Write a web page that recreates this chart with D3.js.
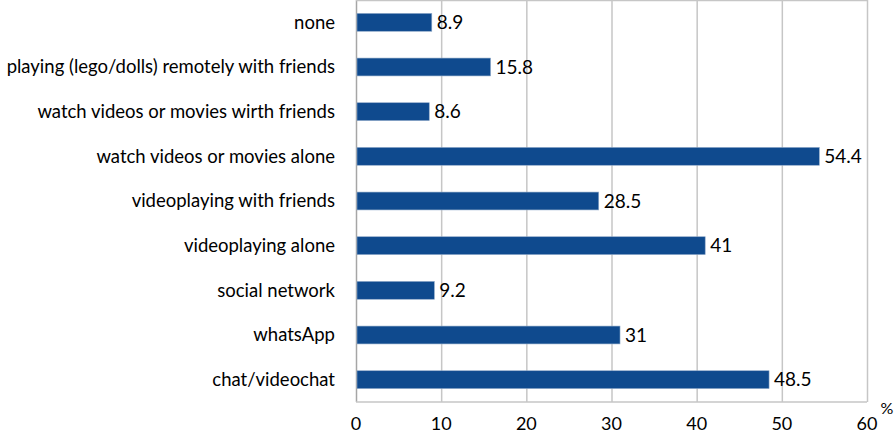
<!DOCTYPE html>
<html>
<head>
<meta charset="utf-8">
<script src="https://cdn.jsdelivr.net/npm/d3@7"></script>
<style>
  body { margin: 0; background: #fff; }
  text { font-family: Lato, "Open Sans", sans-serif; fill: #000; }
</style>
</head>
<body>
<div id="chart"></div>
<script>
const categories = [
    "none",
    "playing (lego/dolls) remotely with friends",
    "watch videos or movies wirth friends",
    "watch videos or movies alone",
    "videoplaying with friends",
    "videoplaying alone",
    "social network",
    "whatsApp",
    "chat/videochat"
];
const values = [8.9, 15.8, 8.6, 54.4, 28.5, 41, 9.2, 31, 48.5];
const xTicks = [0, 10, 20, 30, 40, 50, 60];

const width = 894, height = 435;
const margin = { top: 0, right: 27, bottom: 33, left: 356 };
const innerW = width - margin.left - margin.right;
const innerH = height - margin.top - margin.bottom;

const svg = d3.select("#chart").append("svg")
    .attr("width", width)
    .attr("height", height);

const g = svg.append("g")
    .attr("transform", `translate(${margin.left}, ${margin.top})`);

const x = d3.scaleLinear().domain([0, 60]).range([0, innerW]);
const y = d3.scaleBand().domain(categories).range([0, innerH]).paddingInner(0.6).paddingOuter(0.3);

// gridlines
g.selectAll(".grid")
    .data(xTicks)
    .enter()
    .append("line")
    .attr("x1", d => x(d) + 0.5)
    .attr("x2", d => x(d) + 0.5)
    .attr("y1", 0)
    .attr("y2", innerH)
    .style("stroke", d => d === 0 ? "#a6a6a6" : "#c6c6c6")
    .style("stroke-width", 1.5);

// top / bottom border
g.append("line").attr("x1", 0).attr("x2", innerW).attr("y1", 0.5).attr("y2", 0.5)
    .style("stroke", "#c6c6c6").style("stroke-width", 1.5);
g.append("line").attr("x1", 0).attr("x2", innerW).attr("y1", innerH).attr("y2", innerH)
    .style("stroke", "#c6c6c6").style("stroke-width", 1.5);

// bars
g.selectAll(".bar")
    .data(values)
    .enter()
    .append("rect")
    .attr("class", "bar")
    .attr("x", 1)
    .attr("y", (d, i) => y(categories[i]))
    .attr("width", d => x(d) - 1)
    .attr("height", y.bandwidth())
    .style("fill", "#0f4a8e")
    .style("stroke", "#8fa9c9")
    .style("stroke-width", 0.6);

// value labels
g.selectAll(".val")
    .data(values)
    .enter()
    .append("text")
    .attr("x", d => x(d) + 5)
    .attr("y", (d, i) => y(categories[i]) + y.bandwidth() / 2)
    .attr("dy", "0.35em")
    .style("font-size", "19px")
    .text(d => d);

// category labels
g.selectAll(".cat")
    .data(categories)
    .enter()
    .append("text")
    .attr("x", -21)
    .attr("y", d => y(d) + y.bandwidth() / 2)
    .attr("dy", "0.35em")
    .attr("text-anchor", "end")
    .style("font-size", "18.5px")
    .text(d => d);

// x tick labels
g.selectAll(".tick-label")
    .data(xTicks)
    .enter()
    .append("text")
    .attr("x", d => x(d))
    .attr("y", innerH + 28)
    .attr("text-anchor", "middle")
    .style("font-size", "18px")
    .text(d => d);

svg.append("text")
    .attr("x", 887)
    .attr("y", 414)
    .attr("text-anchor", "middle")
    .style("font-size", "16px")
    .text("%");
</script>
</body>
</html>
